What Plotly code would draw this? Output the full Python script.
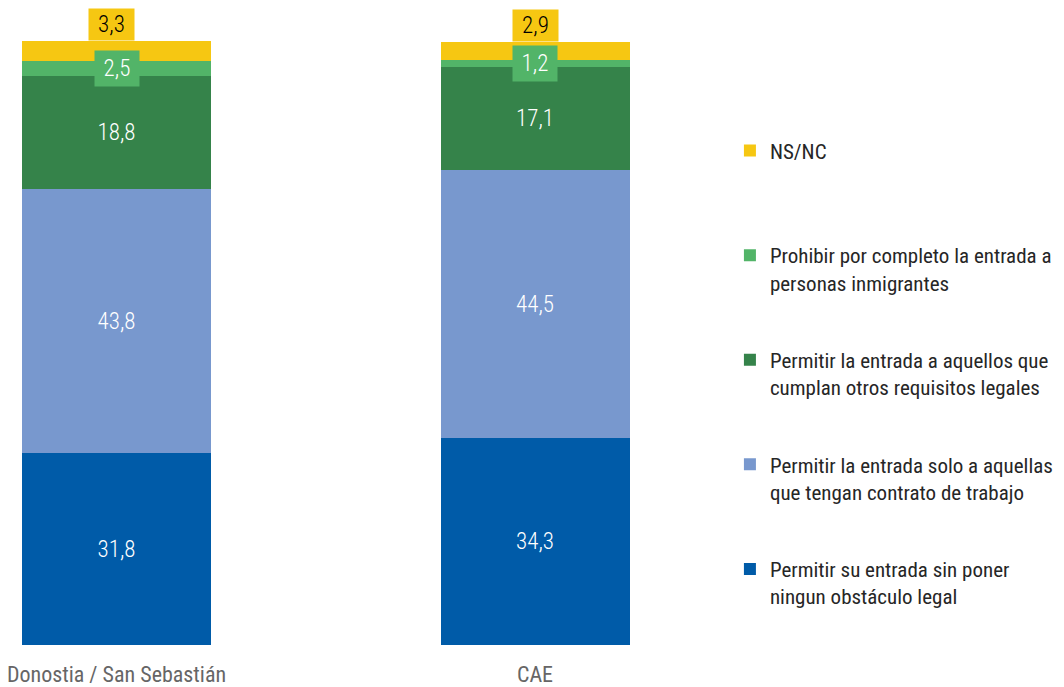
import plotly.graph_objects as go

categories = ["Donostia / San Sebastián", "CAE"]
series_names = [
    "Permitir su entrada sin poner<br>ningun obstáculo legal",
    "Permitir la entrada solo a aquellas<br>que tengan contrato de trabajo",
    "Permitir la entrada a aquellos que<br>cumplan otros requisitos legales",
    "Prohibir por completo la entrada a<br>personas inmigrantes",
    "NS/NC<br>&nbsp;",
]
sin_obstaculo = [31.8, 34.3]
solo_contrato = [43.8, 44.5]
otros_requisitos = [18.8, 17.1]
prohibir = [2.5, 1.2]
nsnc = [3.3, 2.9]
series_values = [sin_obstaculo, solo_contrato, otros_requisitos, prohibir, nsnc]
colors = ["#005BA8", "#7898CE", "#35834A", "#52B468", "#F6C712"]

FONT = "Roboto Condensed, Liberation Sans Narrow, sans-serif"
LIGHT = 300

fig = go.Figure()
for i, (name, vals, col) in enumerate(zip(series_names, series_values, colors)):
    big = i < 3
    fig.add_trace(go.Bar(
        x=categories, y=vals, name=name, marker=dict(color=col, line=dict(width=0)),
        width=0.4516, legendgroup=f"g{i}", legendrank=5 - i,
        texttemplate="%{y:.1f}" if big else None,
        textposition="inside" if big else "none",
        insidetextanchor="middle",
        textfont=dict(color="white", size=23, family=FONT, weight=LIGHT),
        hoverinfo="skip",
    ))

annotations = []
yellow_shift = [-5, 0]
for j, cat in enumerate(categories):
    below = sum(s[j] for s in series_values[:3])
    mid = below + prohibir[j] / 2
    annotations.append(dict(
        x=cat, y=mid, xref="x", yref="y", text=f"{prohibir[j]:.1f}".replace(".", ","),
        showarrow=False, bgcolor=colors[3], font=dict(color="white", size=23, family=FONT, weight=LIGHT),
        width=44, height=35, borderpad=0, yanchor="middle", xshift=0.5 if j == 0 else 0,
    ))
    top = below + prohibir[j] + nsnc[j]
    annotations.append(dict(
        x=cat, y=top, xref="x", yref="y", text=f"{nsnc[j]:.1f}".replace(".", ","),
        showarrow=False, bgcolor=colors[4], font=dict(color="black", size=23, family=FONT, weight=LIGHT),
        width=45, height=31, borderpad=0, yanchor="bottom", xshift=yellow_shift[j],
    ))

fig.update_layout(
    width=1064, height=679,
    margin=dict(l=0, r=0, t=33, b=42),
    paper_bgcolor="white", plot_bgcolor="white",
    barmode="stack", separators=",.",
    font=dict(family=FONT, size=21, color="#222222"),
    xaxis=dict(domain=[0, 0.65], range=[-0.25926, 1.39331], showgrid=False, zeroline=False,
               showline=False, tickfont=dict(size=22, color="#666666", family=FONT),
               ticklabelstandoff=14, automargin=False),
    yaxis=dict(range=[0, 100.2], visible=False),
    legend=dict(x=0.6785, xanchor="left", y=0.852, yanchor="top", traceorder="grouped",
                tracegroupgap=47, valign="top",
                font=dict(size=21, color="#262626", family=FONT),
                bgcolor="rgba(0,0,0,0)"),
    annotations=annotations,
    showlegend=True,
)

fig.write_html("out.html")
